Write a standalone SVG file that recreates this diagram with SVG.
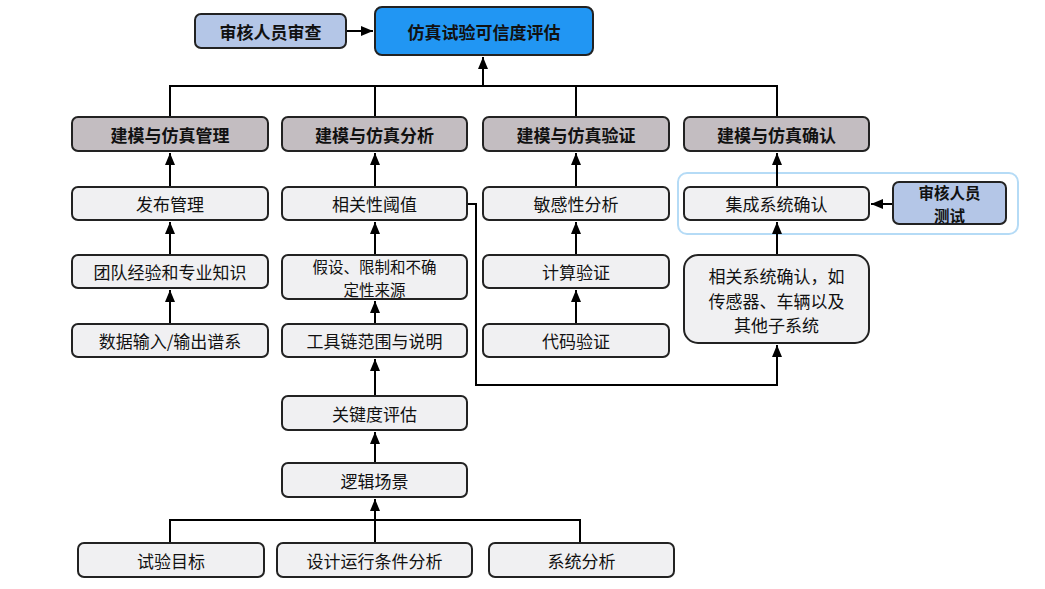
<svg xmlns="http://www.w3.org/2000/svg" width="1045" height="589" viewBox="0 0 1045 589">
<defs>
<marker id="ah" viewBox="0 0 12 10" refX="12" refY="5" markerWidth="12" markerHeight="10" markerUnits="userSpaceOnUse" orient="auto">
<path d="M0,0 L12,5 L0,10 Z" fill="#000"/>
</marker>
<style>
.n{stroke:#222;stroke-width:2;}
.hd{fill:#c3bdc1;}
.lt{fill:#f0f0f2;}
.rv{fill:#b4c6e7;}
.mn{fill:#2196f3;}
text{font-family:"Noto Sans CJK SC","Noto Sans",sans-serif;fill:#111;text-anchor:middle;dominant-baseline:central;}
.b{font-weight:bold;font-size:17px;}
.t{font-size:17px;}
.m{font-size:15.5px;}
.c path{fill:none;stroke:#000;stroke-width:2;}
</style>
</defs>
<rect x="678" y="173" width="340" height="61" rx="9" fill="#fff" stroke="#b5dbf6" stroke-width="2"/>
<g class="c">
<path d="M346,31 H373" marker-end="url(#ah)"/>
<path d="M170,117 V86 H777 V117"/>
<path d="M375,117 V86"/>
<path d="M576,117 V86"/>
<path d="M483,86 V57" marker-end="url(#ah)"/>
<path d="M170,187 V153" marker-end="url(#ah)"/>
<path d="M170,255 V222" marker-end="url(#ah)"/>
<path d="M170,324 V290" marker-end="url(#ah)"/>
<path d="M375,187 V153" marker-end="url(#ah)"/>
<path d="M375,255 V222" marker-end="url(#ah)"/>
<path d="M375,324 V301" marker-end="url(#ah)"/>
<path d="M375,396 V359" marker-end="url(#ah)"/>
<path d="M375,463 V432" marker-end="url(#ah)"/>
<path d="M375,543 V499" marker-end="url(#ah)"/>
<path d="M170,543 V520 H580 V543"/>
<path d="M576,187 V153" marker-end="url(#ah)"/>
<path d="M576,255 V222" marker-end="url(#ah)"/>
<path d="M576,324 V290" marker-end="url(#ah)"/>
<path d="M777,187 V153" marker-end="url(#ah)"/>
<path d="M777,255 V222" marker-end="url(#ah)"/>
<path d="M467,204 H476 V385 H777 V345" marker-end="url(#ah)"/>
<path d="M893,204 H871" marker-end="url(#ah)"/>
</g>
<g id="review1"><rect class="n rv" x="195" y="14" width="151" height="34" rx="6"/><text class="b" x="270.5" y="31">审核人员审查</text></g>
<g id="main"><rect class="n mn" x="375" y="7" width="218" height="48" rx="7"/><text class="b" x="484" y="31">仿真试验可信度评估</text></g>
<g id="h1"><rect class="n hd" x="72" y="117" width="196" height="34" rx="6"/><text class="b" x="170" y="134">建模与仿真管理</text></g>
<g id="h2"><rect class="n hd" x="282" y="117" width="185" height="34" rx="6"/><text class="b" x="374.5" y="134">建模与仿真分析</text></g>
<g id="h3"><rect class="n hd" x="483" y="117" width="186" height="34" rx="6"/><text class="b" x="576" y="134">建模与仿真验证</text></g>
<g id="h4"><rect class="n hd" x="684" y="117" width="185" height="34" rx="6"/><text class="b" x="776.5" y="134">建模与仿真确认</text></g>
<g id="n_fabu"><rect class="n lt" x="72" y="187" width="196" height="33" rx="6"/><text class="t" x="170" y="203.5">发布管理</text></g>
<g id="n_tuandui"><rect class="n lt" x="72" y="255" width="196" height="33" rx="6"/><text class="t" x="170" y="271.5">团队经验和专业知识</text></g>
<g id="n_shuju"><rect class="n lt" x="72" y="324" width="196" height="33" rx="6"/><text class="t" x="170" y="340.5">数据输入/输出谱系</text></g>
<g id="n_xiangguan"><rect class="n lt" x="282" y="187" width="185" height="33" rx="6"/><text class="t" x="374.5" y="203.5">相关性阈值</text></g>
<g id="n_jiashe"><rect class="n lt" x="282" y="255" width="185" height="44" rx="6"/><text class="m" x="374.5" y="266">假设、限制和不确</text><text class="m" x="374.5" y="288.5">定性来源</text></g>
<g id="n_gongju"><rect class="n lt" x="282" y="324" width="185" height="33" rx="6"/><text class="t" x="374.5" y="340.5">工具链范围与说明</text></g>
<g id="n_guanjian"><rect class="n lt" x="282" y="396" width="185" height="34" rx="6"/><text class="t" x="374.5" y="413">关键度评估</text></g>
<g id="n_luoji"><rect class="n lt" x="282" y="463" width="185" height="34" rx="6"/><text class="t" x="374.5" y="480">逻辑场景</text></g>
<g id="n_shiyan"><rect class="n lt" x="78" y="543" width="186" height="34" rx="6"/><text class="t" x="171" y="560">试验目标</text></g>
<g id="n_sheji"><rect class="n lt" x="277" y="543" width="195" height="34" rx="6"/><text class="t" x="374.5" y="560">设计运行条件分析</text></g>
<g id="n_xitong"><rect class="n lt" x="489" y="543" width="185" height="34" rx="6"/><text class="t" x="581.5" y="560">系统分析</text></g>
<g id="n_mingan"><rect class="n lt" x="483" y="187" width="186" height="33" rx="6"/><text class="t" x="576" y="203.5">敏感性分析</text></g>
<g id="n_jisuan"><rect class="n lt" x="483" y="255" width="186" height="33" rx="6"/><text class="t" x="576" y="271.5">计算验证</text></g>
<g id="n_daima"><rect class="n lt" x="483" y="324" width="186" height="33" rx="6"/><text class="t" x="576" y="340.5">代码验证</text></g>
<g id="n_jicheng"><rect class="n lt" x="684" y="187" width="185" height="33" rx="6"/><text class="t" x="776.5" y="203.5">集成系统确认</text></g>
<g id="n_xgxt"><rect class="n lt" x="684" y="255" width="185" height="88" rx="14"/><text class="t" x="776.5" y="275.5">相关系统确认，如</text><text class="t" x="776.5" y="300">传感器、车辆以及</text><text class="t" x="776.5" y="324.5">其他子系统</text></g>
<g id="review2"><rect class="n rv" x="893" y="182" width="113" height="42" rx="6"/><text class="b m" x="949.5" y="192">审核人员</text><text class="b m" x="949.5" y="214.5">测试</text></g>
</svg>
